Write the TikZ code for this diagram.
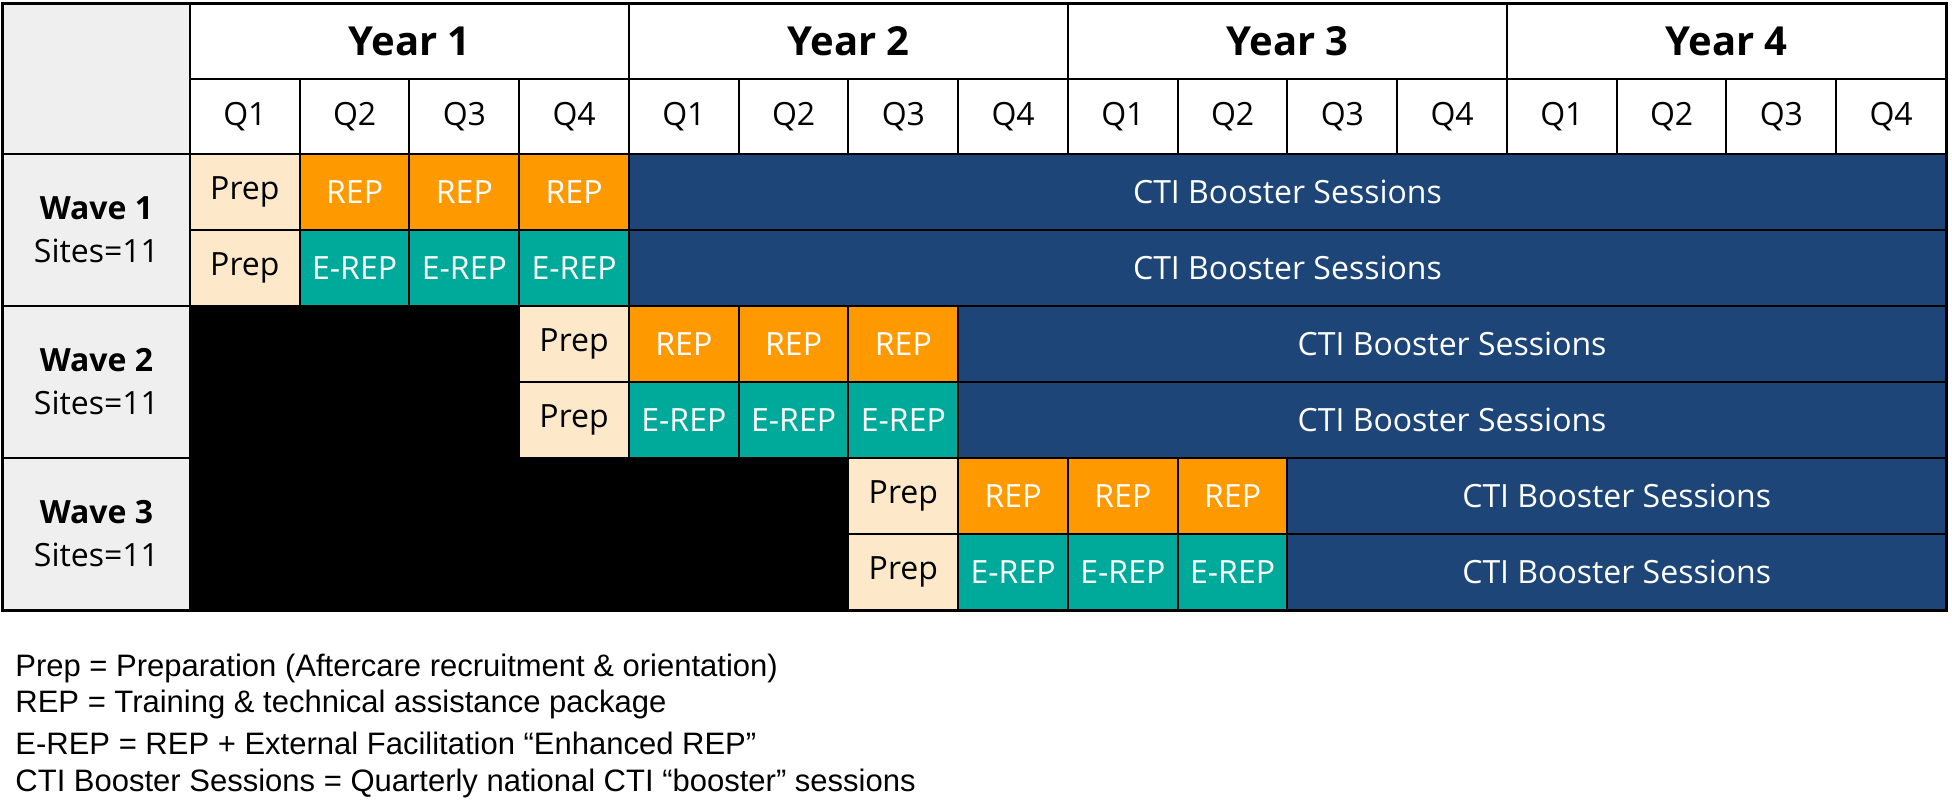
\documentclass[tikz,border=0pt]{standalone}
\usepackage{fontspec}
\setmainfont{Open Sans}
\newfontfamily\legendfont{Liberation Sans}
\usetikzlibrary{positioning}

\definecolor{prepcol}{HTML}{FDE8C9}
\definecolor{repcol}{HTML}{FF9900}
\definecolor{erepcol}{HTML}{00AA9A}
\definecolor{cticol}{HTML}{1D4577}
\definecolor{sidecol}{HTML}{EFEFEF}

\begin{document}
\begin{tikzpicture}[
    x=54.875pt, y=-38pt,
    cell/.style={draw, line width=1pt, anchor=north west, inner sep=0pt, font=\fontsize{16}{19}\selectfont},
    qspan/.style={minimum width=(#1)*54.875pt, minimum height=38pt},
    prep/.style={cell, qspan=1, fill=prepcol},
    rep/.style={cell, qspan=1, fill=repcol, text=white},
    erep/.style={cell, qspan=1, fill=erepcol, text=white},
    cti/.style={cell, qspan=#1, fill=cticol, text=white},
    blank/.style={cell, qspan=#1, minimum height=76pt, fill=black},
    side/.style={cell, minimum width=93.5pt, fill=sidecol, align=center},
    yearbox/.style={cell, minimum width=219.5pt, minimum height=37.5pt, fill=white, font=\fontsize{20}{24}\selectfont\bfseries},
    qbox/.style={cell, minimum width=54.875pt, minimum height=37.5pt, fill=white},
    legend/.style={anchor=west, inner sep=0pt, font=\legendfont\fontsize{15.5}{18}\selectfont}
]
\useasboundingbox (-1.722,-2.013) rectangle (16.064,8.671);

% header
\node[side, minimum height=75pt] (corner) at (-1.704,-1.974) {};
\foreach \y in {1,...,4} {
    \node[yearbox] (year\y) at ({4*(\y-1)},-1.974) {Year \y};
    \foreach \q in {1,...,4}
        \node[qbox] (y\y q\q) at ({4*(\y-1)+\q-1},-0.987) {Q\q};
}

% waves: \s = quarter in which Prep starts
\foreach \w/\s [evaluate=\w as \r using int(2*(\w-1)), evaluate=\s as \rest using int(12-\s)] in {1/0,2/3,3/6} {
    \node[side, minimum height=76pt, font=\fontsize{16}{21.5}\selectfont] (wave\w) at (-1.704,\r) {\textbf{Wave \w}\\Sites=11};
    \ifnum\s>0
        \node[blank=\s] (w\w-idle) at (0,\r) {};
    \fi
    \node[prep] (w\w-prepa) at (\s,\r) {Prep};
    \node[prep] (w\w-prepb) at (\s,{\r+1}) {Prep};
    \foreach \c in {1,2,3} {
        \node[rep] (w\w-rep\c) at ({\s+\c},\r) {REP};
        \node[erep] (w\w-erep\c) at ({\s+\c},{\r+1}) {E-REP};
    }
    \node[cti=\rest] (w\w-ctia) at ({\s+4},\r) {CTI Booster Sessions};
    \node[cti=\rest] (w\w-ctib) at ({\s+4},{\r+1}) {CTI Booster Sessions};
}

% outer frame
\draw[line width=1.25pt] (corner.north west) rectangle (w3-ctib.south east);

% key
\node[legend] (leg1) at (-1.585,6.78) {Prep = Preparation (Aftercare recruitment \& orientation)};
\node[legend] (leg2) at (-1.585,7.25) {REP = Training \& technical assistance package};
\node[legend] (leg3) at (-1.585,7.77) {E-REP = REP + External Facilitation “Enhanced REP”};
\node[legend] (leg4) at (-1.585,8.29) {CTI Booster Sessions = Quarterly national CTI “booster” sessions};
\end{tikzpicture}
\end{document}
